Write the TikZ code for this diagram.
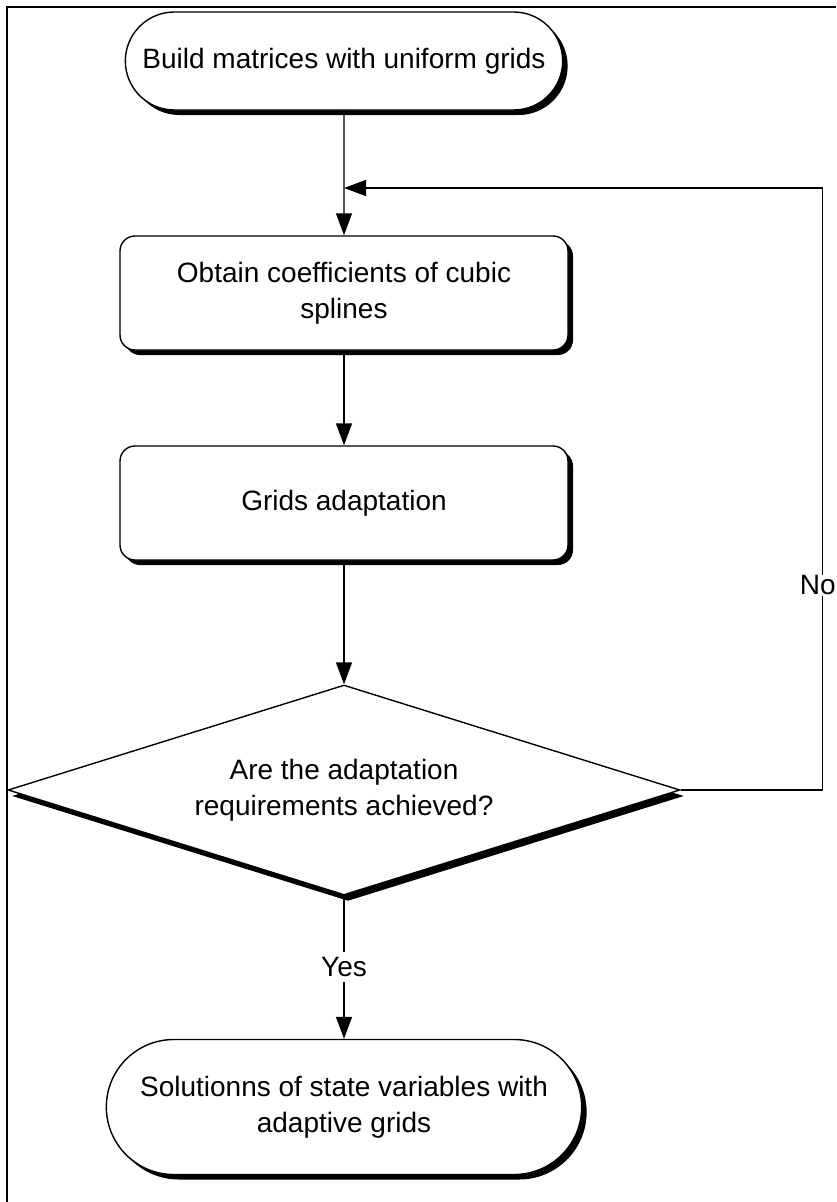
\documentclass[tikz,border=0pt]{standalone}
\usepackage{fontspec}
\setmainfont{Liberation Sans}
\usetikzlibrary{shapes.geometric,shapes.misc,shadows,arrows.meta}

\begin{document}
\begin{tikzpicture}[x=1pt, y=-1pt, line width=1.4pt,
    font=\fontsize{28}{36}\selectfont,
    >={Triangle[length=22pt,width=16pt]},
    shade5/.style={drop shadow={shadow xshift=5pt, shadow yshift=-5pt, fill=black, opacity=1}},
    terminal/.style={rounded rectangle, draw, fill=white, shade5, align=center},
    process/.style={rectangle, rounded corners=15pt, draw, fill=white, shade5, align=center,
        minimum width=448pt, minimum height=114pt},
    decision/.style={diamond, draw, fill=white, align=center, inner sep=0pt, aspect=3.2,
        drop shadow={shadow xshift=4pt, shadow yshift=-6pt, fill=black, opacity=1}}]
    \useasboundingbox (0,0) rectangle (836,1202);

    % 枠
    \draw[line width=1.5pt] (7,1202) -- (7,7) -- (836,7);

    % ノードの定義
    \node[terminal, minimum width=444pt, minimum height=98pt] (build) at (344, 61) {Build matrices with uniform grids};
    \node[process] (coeff) at (344, 293) {Obtain coefficients of cubic\\splines};
    \node[process] (adapt) at (344, 503) {Grids adaptation};
    \node[decision, minimum width=672pt, minimum height=210pt] (check) at (344, 790) {Are the adaptation\\requirements achieved?};
    \node[terminal, minimum width=482pt, minimum height=135pt] (sol) at (344, 1107) {Solutionns of state variables with\\adaptive grids};

    % 合流点
    \coordinate (merge) at (344, 188);

    % エッジの定義
    \draw[->] (build) -- (coeff);
    \draw[->] (coeff) -- (adapt);
    \draw[->] (adapt) -- (check);
    \draw[->] (check.south) -- node[fill=white, inner sep=5pt] (yes) {Yes} (sol.north);
    \draw[->] (check.east) -- ++(142,0) |- node[pos=0.17, fill=white, inner sep=1pt, xshift=-5pt] (no) {No} (merge);
\end{tikzpicture}
\end{document}
